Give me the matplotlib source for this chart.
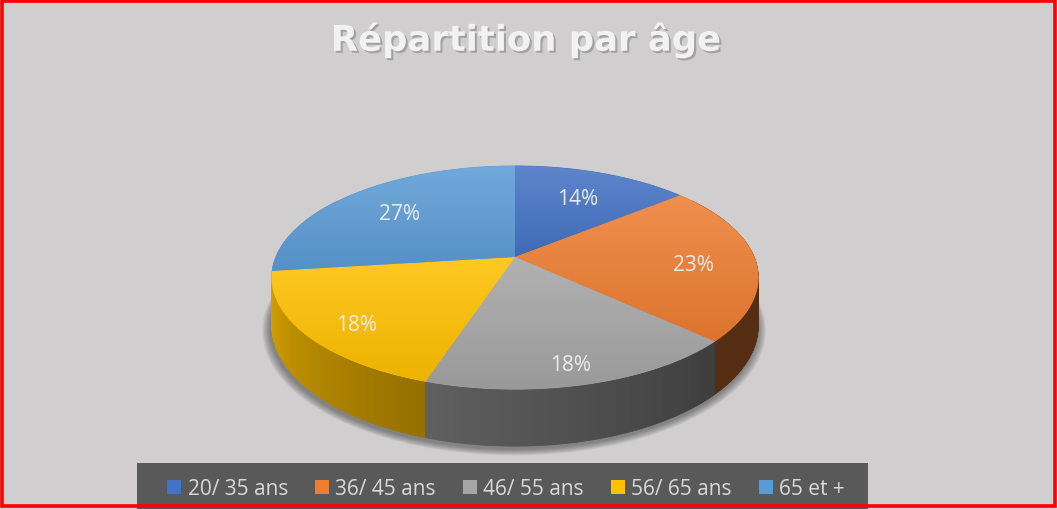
import numpy as np
import matplotlib
matplotlib.use("Agg")
import matplotlib.pyplot as plt
from matplotlib.patches import Polygon, Rectangle
from matplotlib.collections import PolyCollection
import matplotlib.patheffects as pe
from matplotlib.colors import to_rgb

# ---------------- data ----------------
categories = ["20/ 35 ans", "36/ 45 ans", "46/ 55 ans", "56/ 65 ans", "65 et +"]
values = [14, 23, 18, 18, 27]
colors = ["#4472C4", "#ED7D31", "#A5A5A5", "#FFC000", "#5B9BD5"]
title = "Répartition par âge"

W, H = 1057, 510
fig = plt.figure(figsize=(W / 100, H / 100), dpi=100)
fig.patch.set_facecolor("#D0CECE")
ax = fig.add_axes([0, 0, 1, 1])
ax.set_xlim(0, W)
ax.set_ylim(H, 0)
ax.axis("off")

# perspective model of the 3D pie
CX, CY = 515, 258
A, B, K = 239, 107.8, -0.184
DEPTH = 46.5


def proj(u, v):
    d = 1 + K * v
    return CX + A * u / d, CY + B * v / d


def rim(phi):
    u, v = np.sin(phi), -np.cos(phi)
    x, y = proj(u, v)
    return x, y, y + DEPTH / (1 + K * v)


def shade(deg):
    deg = np.asarray(deg, dtype=float)
    return np.interp(deg, [0, 130, 198, 268, 360], [0.36, 0.36, 0.58, 0.88, 0.88])


total = float(sum(values))
fr = np.array(values) / total
bounds = np.concatenate([[0], np.cumsum(fr)]) * 360.0

# ---- soft shadow below pie ----
phis = np.radians(np.linspace(0, 360, 361))
bx, _, by = rim(phis)
mx, my = bx.mean(), by.mean()
for i in range(7, 0, -1):
    s = 1 + i * 0.005
    ax.add_patch(Polygon(np.column_stack([mx + (bx - mx) * s - 1, my + (by - my) * s + 2.5 + i * 0.3]),
                         closed=True, facecolor="#3a3a3a", edgecolor="none", alpha=0.09, zorder=1))

# ---- side walls ----
quads, qcols, qkeys = [], [], []
for i in range(len(values)):
    a0, a1 = max(bounds[i], 55), min(bounds[i + 1], 305)
    if a1 <= a0:
        continue
    n = max(2, int((a1 - a0) / 0.75))
    angs = np.linspace(a0, a1, n + 1)
    base = np.array(to_rgb(colors[i]))
    for j in range(n):
        p0, p1 = np.radians(angs[j]), np.radians(angs[j + 1])
        x0, y0t, y0b = rim(p0)
        x1, y1t, y1b = rim(p1)
        quads.append([(x0, y0t), (x1, y1t), (x1, y1b), (x0, y0b)])
        c = np.clip(base * shade((angs[j] + angs[j + 1]) / 2), 0, 1)
        qcols.append(c)
        qkeys.append(-np.cos((p0 + p1) / 2))
order = np.argsort(qkeys)
pc = PolyCollection([quads[k] for k in order], facecolors=[qcols[k] for k in order],
                    edgecolors=[qcols[k] for k in order], linewidths=0.6, zorder=2)
ax.add_collection(pc)

# ---- top faces with gradient ----
for i in range(len(values)):
    angs = np.radians(np.linspace(bounds[i], bounds[i + 1], 120))
    xs, ys, _ = rim(angs)
    pts = np.column_stack([np.r_[CX, xs], np.r_[CY, ys]])
    base = np.array(to_rgb(colors[i]))
    poly = Polygon(pts, closed=True, facecolor=base, edgecolor=base, lw=0.6, zorder=3)
    ax.add_patch(poly)
    top = base + (1 - base) * 0.14
    bot = base * 0.93
    t = np.linspace(0, 1, 64)[:, None, None]
    grad = top[None, None, :] * (1 - t) + bot[None, None, :] * t
    x0, x1 = pts[:, 0].min(), pts[:, 0].max()
    y0, y1 = pts[:, 1].min(), pts[:, 1].max()
    im = ax.imshow(grad, extent=(x0, x1, y1, y0), origin="upper", aspect="auto",
                   interpolation="bilinear", zorder=4)
    clip = Polygon(pts, closed=True, transform=ax.transData)
    im.set_clip_path(clip)

# ---- percentage labels ----
for i in range(len(values)):
    mid = np.radians((bounds[i] + bounds[i + 1]) / 2)
    u, v = np.sin(mid), -np.cos(mid)
    rho = 0.78 + 0.06 * v
    x, y = proj(rho * u * 0.95, rho * v)
    ax.text(x, y + 5, f"{values[i] / total * 100:.0f}%", ha="center", va="center",
            fontsize=15, color="#EBEBEB", family="Open Sans", zorder=6)

ax.set_xlim(0, W)
ax.set_ylim(H, 0)

# ---- title ----
ax.text(526, 41, title, ha="center", va="center", fontsize=25.5, fontweight="bold",
        family="DejaVu Sans", color="#F2F2F2", zorder=7,
        path_effects=[pe.SimplePatchShadow(offset=(1.5, -1.5), shadow_rgbFace="#6e6e6e", alpha=0.45),
                      pe.Normal()])

# ---- legend ----
ax.add_patch(Rectangle((137, 464), 731, 50, facecolor="#595959", edgecolor="none", zorder=8))
handles = [Rectangle((0, 0), 1, 1, facecolor=c, edgecolor="none") for c in colors]
leg = ax.legend(handles, categories, ncol=5, loc="center",
                bbox_to_anchor=(506 / W, 1 - 490 / H), frameon=False,
                handlelength=0.67, handleheight=0.67, handletextpad=0.3,
                columnspacing=1.3, labelcolor="#D9D9D9",
                prop={"family": "Open Sans", "size": 15})
leg.set_zorder(9)

# ---- red border ----
ax.add_patch(Rectangle((2, 2), W - 4.5, H - 5, facecolor="none", edgecolor="#FF0000",
                       lw=2.6, zorder=10, clip_on=False))

fig.savefig("out.png", dpi=100, facecolor=fig.get_facecolor())
